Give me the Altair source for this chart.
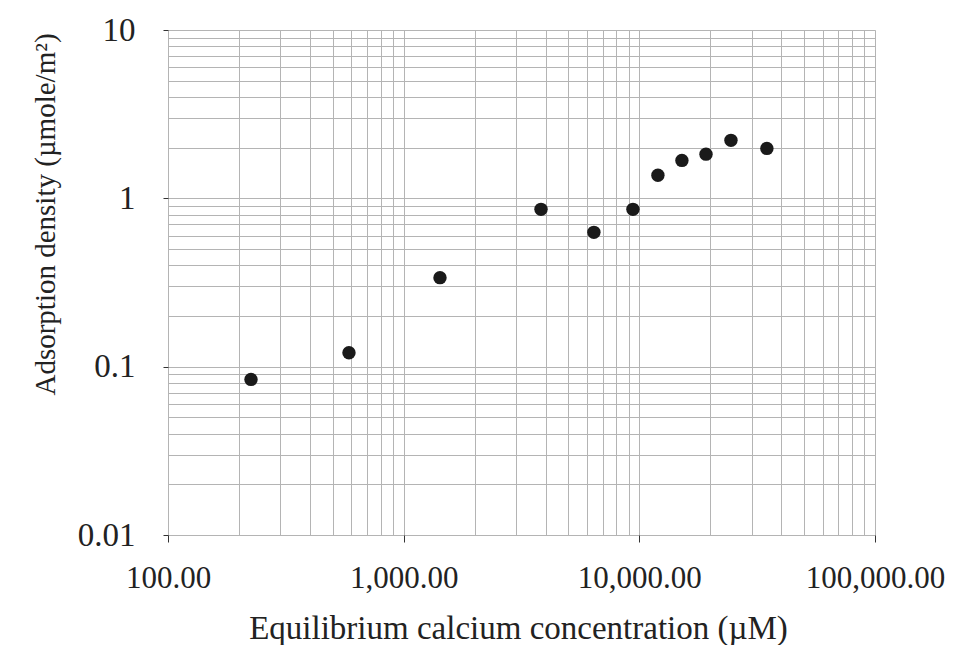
import altair as alt
import pandas as pd

# Data
conc_uM = [225, 586, 1426, 3826, 6415, 9394, 11990, 15160, 19180, 24480, 34770]
adsorption = [0.084, 0.121, 0.338, 0.86, 0.628, 0.86, 1.37, 1.68, 1.83, 2.21, 1.98]

x_decades = [100, 1000, 10000]
y_decades = [0.01, 0.1, 1]
x_grid = [round(d * k, 6) for d in x_decades for k in range(1, 10)] + [100000]
y_grid = [round(d * k, 6) for d in y_decades for k in range(1, 10)] + [10]

df = pd.DataFrame({"x": conc_uM, "y": adsorption})

FONT = "Liberation Serif"
is_major = "abs(log(datum.value)/LN10 - round(log(datum.value)/LN10)) < 1e-6"

x_axis = alt.Axis(
    values=x_grid,
    labelExpr=f"({is_major}) ? format(datum.value, ',.2f') : ''",
    grid=True,
    gridColor="#b4b4b4",
    gridWidth=1,
    gridOpacity=1,
    domain=False,
    tickColor={"condition": {"test": is_major, "value": "#333333"}, "value": "transparent"},
    tickSize=7,
    labelPadding=21,
    labelFont=FONT,
    labelFontSize=31,
    labelColor="#222222",
    labelBaseline="top",
    labelFlush=False,
    labelOverlap=False,
    title="Equilibrium calcium concentration (µM)",
    titleFont=FONT,
    titleFontSize=33,
    titleFontWeight="normal",
    titleColor="#222222",
    titleX=350,
    titleY=93,
    titleBaseline="middle",
    titleAlign="center",
)

y_axis = alt.Axis(
    values=y_grid,
    labelExpr=f"({is_major}) ? format(datum.value, '~g') : ''",
    grid=True,
    gridColor="#b4b4b4",
    gridWidth=1,
    gridOpacity=1,
    domain=False,
    tickColor={"condition": {"test": is_major, "value": "#333333"}, "value": "transparent"},
    tickSize=5,
    labelPadding=28,
    labelFont=FONT,
    labelFontSize=33,
    labelColor="#222222",
    labelBaseline="middle",
    labelFlush=False,
    labelOverlap=False,
    title="Adsorption density (µmole/m²)",
    titleFont=FONT,
    titleFontSize=29,
    titleFontWeight="normal",
    titleColor="#222222",
    titleX=-123,
    titleY=184,
    titleAngle=270,
    titleBaseline="middle",
    titleAlign="center",
)

chart = (
    alt.Chart(df)
    .mark_circle(size=180, color="#1a1a1a", opacity=1)
    .encode(
        x=alt.X("x:Q", scale=alt.Scale(type="log", domain=[100, 100000], nice=False), axis=x_axis),
        y=alt.Y("y:Q", scale=alt.Scale(type="log", domain=[0.01, 10], nice=False), axis=y_axis),
    )
    .properties(
        width=707,
        height=505,
        autosize=alt.AutoSizeParams(type="none"),
        padding={"left": 160, "top": 22, "right": 75, "bottom": 110},
    )
    .configure_view(stroke="#222222", strokeWidth=1.5)
    .configure(background="white")
)

chart.save("out.html", embed_options={"renderer": "svg", "actions": False})
